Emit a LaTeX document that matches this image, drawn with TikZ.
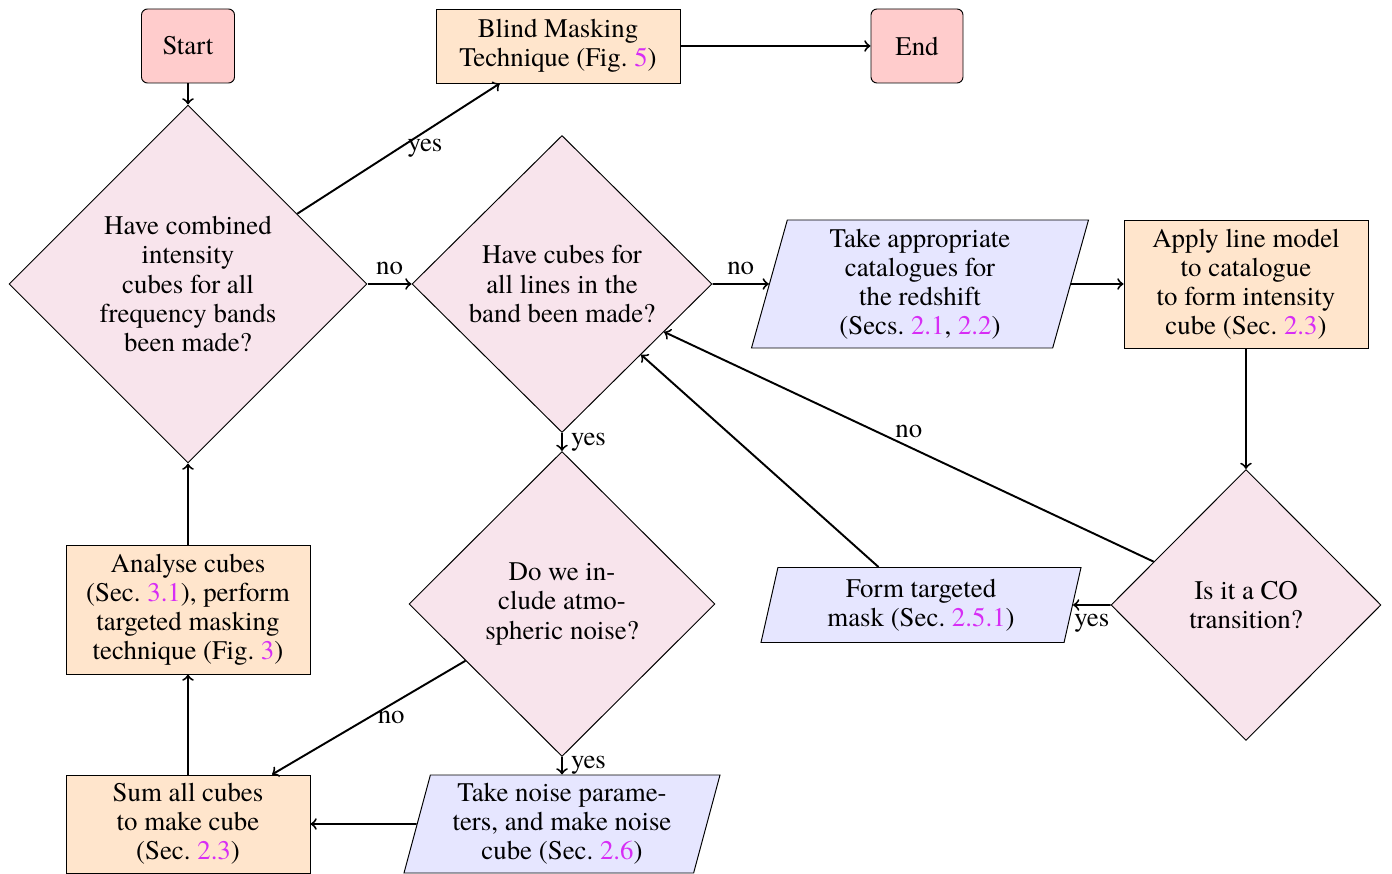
\documentclass[tikz,border=0pt]{standalone}
\usepackage{fontspec}
\setmainfont{texgyretermes}[Extension=.otf,UprightFont=*-regular,BoldFont=*-bold,ItalicFont=*-italic,BoldItalicFont=*-bolditalic]
\usetikzlibrary{shapes.geometric}
\definecolor{linkc}{RGB}{215,45,245}
\definecolor{dfill}{RGB}{248,228,236}
\definecolor{sfill}{RGB}{255,204,204}
\definecolor{ofill}{RGB}{255,229,204}
\definecolor{bfill}{RGB}{230,230,255}
\newcommand\lnk[1]{\textcolor{linkc}{#1}}
\newlength\px
\setlength\px{0.4132pt}
\begin{document}
\begin{tikzpicture}[x=0.4132pt,y=-0.4132pt,
  every node/.style={align=center,font=\fontsize{11.1}{12}\selectfont},
  termbox/.style={draw,rectangle,rounded corners=6\px,fill=sfill,inner sep=0pt},
  procbox/.style={draw,rectangle,fill=ofill,inner sep=0pt},
  iobox/.style={draw,trapezium,trapezium left angle=72,trapezium right angle=108,trapezium stretches body,fill=bfill,inner sep=0pt},
  decbox/.style={draw,diamond,fill=dfill,inner sep=0pt},
  arr/.style={->,thick}]
\useasboundingbox (0,0) rectangle (1392,874);
\node[termbox,minimum width=93\px,minimum height=74\px] (start) at (188,46) {Start};
\node[procbox,minimum width=244\px,minimum height=74\px] (blind) at (558,46) {Blind Masking\\Technique (Fig.~\lnk{5})};
\node[termbox,minimum width=92\px,minimum height=74\px] (end) at (917,46) {End};
\node[decbox,minimum width=358\px,minimum height=358\px] (d1) at (188,284) {Have combined\\intensity\\cubes for all\\frequency bands\\been made?};
\node[decbox,minimum width=300\px,minimum height=297\px] (d2) at (562,284) {Have cubes for\\all lines in the\\band been made?};
\node[iobox,minimum width=337\px,minimum height=128\px] (take) at (920,284) {Take appropriate\\catalogues for\\the redshift\\(Secs.~\lnk{2.1}, \lnk{2.2})};
\node[procbox,minimum width=244\px,minimum height=128\px] (apply) at (1246,284) {Apply line model\\to catalogue\\to form intensity\\cube (Sec.~\lnk{2.3})};
\node[decbox,minimum width=270\px,minimum height=271\px] (co) at (1246,605) {Is it a CO\\transition?};
\node[iobox,minimum width=320\px,minimum height=75\px] (form) at (921,605) {Form targeted\\mask (Sec.~\lnk{2.5.1})};
\node[decbox,minimum width=306\px,minimum height=305\px] (d3) at (562,604) {Do we in-\\clude atmo-\\spheric noise?};
\node[procbox,minimum width=244\px,minimum height=129\px] (analyse) at (188,609.5) {Analyse cubes\\(Sec.~\lnk{3.1}), perform\\targeted masking\\technique (Fig.~\lnk{3})};
\node[procbox,minimum width=244\px,minimum height=98\px] (sum) at (188,824) {Sum all cubes\\to make cube\\(Sec.~\lnk{2.3})};
\node[iobox,minimum width=316\px,minimum height=98\px] (noise) at (562,824) {Take noise parame-\\ters, and make noise\\cube (Sec.~\lnk{2.6})};
\draw[arr] (start) -- (d1);
\draw[arr] (d1) -- node[right] {yes} (blind);
\draw[arr] (blind) -- (end);
\draw[arr] (d1) -- node[above] {no} (d2);
\draw[arr] (d2) -- node[above] {no} (take);
\draw[arr] (take) -- (apply);
\draw[arr] (apply) -- (co);
\draw[arr] (co) -- node[above] {no} (d2);
\draw[arr] (co) -- node[below] {yes} (form);
\draw[arr] (form) -- (d2);
\draw[arr] (d2) -- node[right] {yes} (d3);
\draw[arr] (d3) -- node[right] {no} (sum);
\draw[arr] (d3) -- node[right] {yes} (noise);
\draw[arr] (noise) -- (sum);
\draw[arr] (sum) -- (analyse);
\draw[arr] (analyse) -- (d1);
\end{tikzpicture}
\end{document}
